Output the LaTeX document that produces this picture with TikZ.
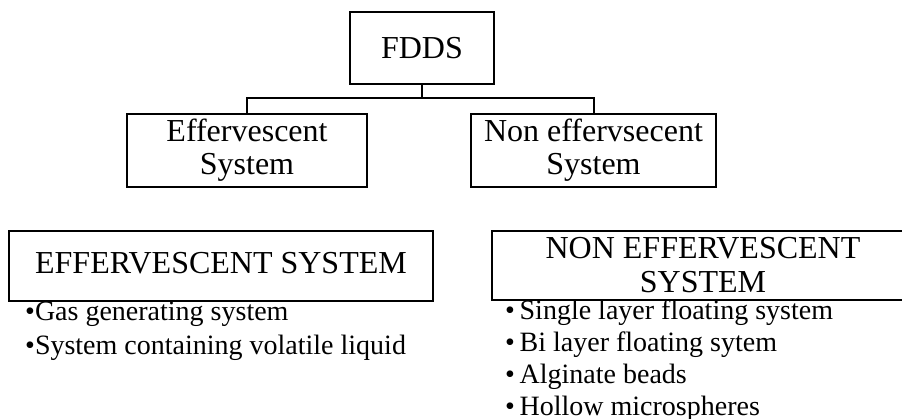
\documentclass[tikz,border=0pt]{standalone}
\usepackage{fontspec}
\setmainfont{Liberation Serif}
\begin{document}
\begin{tikzpicture}[x=1pt,y=-1pt,
  box/.style={draw,line width=2pt,inner sep=0pt,align=center,font=\fontsize{32}{33}\selectfont},
  conn/.style={line width=2pt},
  items/.style={inner sep=0pt,align=left,anchor=base west}]
\useasboundingbox (0,0) rectangle (902,418);
\clip (0,0) rectangle (902,418);
\node[box,minimum width=144pt,minimum height=72pt] (fdds) at (422,48) {FDDS};
\node[box,minimum width=240pt,minimum height=73pt] (eff) at (247,150.5) {Effervescent\\System};
\node[box,minimum width=245pt,minimum height=73pt] (neff) at (593.5,150.5) {Non effervsecent\\System};
\coordinate (j) at (422,98);
\draw[conn] (fdds.south) -- (j);
\draw[conn] (j) -| (eff.north);
\draw[conn] (j) -| (neff.north);
\node[box,minimum width=424pt,minimum height=70pt,text depth=6pt] (effsys) at (221,266) {EFFERVESCENT SYSTEM};
\node[box,minimum width=422pt,minimum height=69pt,font=\fontsize{32}{34}\selectfont] (neffsys) at (703,265.5) {NON EFFERVESCENT\\SYSTEM};
\node[items,font=\fontsize{28}{34}\selectfont] (efflist) at (25,354) {•Gas generating system\\•System containing volatile liquid};
\node[items,font=\fontsize{28}{32}\selectfont] (nefflist) at (505,415) {•\,Single layer floating system\\•\,Bi layer floating sytem\\•\,Alginate beads\\•\,Hollow microspheres};
\end{tikzpicture}
\end{document}
